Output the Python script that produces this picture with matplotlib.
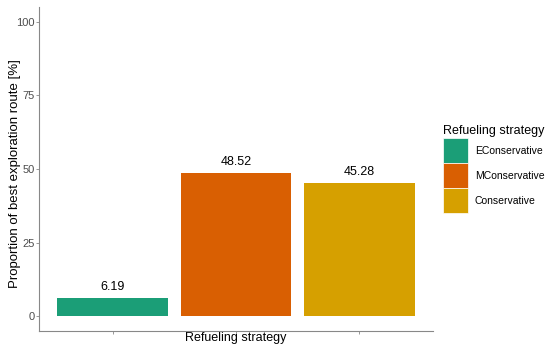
import matplotlib
matplotlib.use("Agg")
import matplotlib.pyplot as plt
from matplotlib.patches import Patch

plt.rcParams['font.family'] = ['Liberation Sans', 'DejaVu Sans']

categories = ["EConservative", "MConservative", "Conservative"]
values = [6.19, 48.52, 45.28]
colors = ["#1B9E77", "#D95F02", "#D6A000"]
yticks = [0, 25, 50, 75, 100]

fig = plt.figure(figsize=(5.5, 3.52), dpi=100)
ax = fig.add_axes([39/550, 1-331/352, (433-39)/550, (331-7)/352])

x = list(range(1, len(categories)+1))
ax.bar(x, values, width=0.9, color=colors)
for xi, v in zip(x, values):
    ax.text(xi, v + 3.8, f"{v:.2f}", ha='center', va='center', fontsize=9, color='black')

ax.set_xlim(0.4, 3.6)
ax.set_ylim(-5, 105)
ax.set_yticks(yticks)
ax.set_yticklabels([str(t) for t in yticks], fontsize=8, color='#4D4D4D')
ax.set_xticks(x)
ax.set_xticklabels([])
ax.tick_params(axis='both', length=2, width=0.6, color='#888888', pad=1)
for s in ['top', 'right']:
    ax.spines[s].set_visible(False)
for s in ['left', 'bottom']:
    ax.spines[s].set_color('#888888')
    ax.spines[s].set_linewidth(0.8)
ax.set_ylabel("Proportion of best exploration route [%]", fontsize=9.5)
ax.yaxis.set_label_coords(-0.046, 0.486)
ax.set_xlabel("Refueling strategy", fontsize=9)
ax.xaxis.set_label_coords(0.5, -0.004)

handles = [Patch(facecolor=c, edgecolor='white', linewidth=0.5) for c in colors]
leg = fig.legend(handles, categories, title="Refueling strategy",
                 loc='upper left', bbox_to_anchor=(443/550, 1-125/352),
                 frameon=False, fontsize=7.5, title_fontsize=9,
                 handlelength=2.4, handleheight=3.3, handletextpad=0.65,
                 labelspacing=0.0, borderaxespad=0, borderpad=0)
leg._legend_box.align = "left"
leg._legend_box.sep = 1

fig.savefig("out.png", dpi=100)
